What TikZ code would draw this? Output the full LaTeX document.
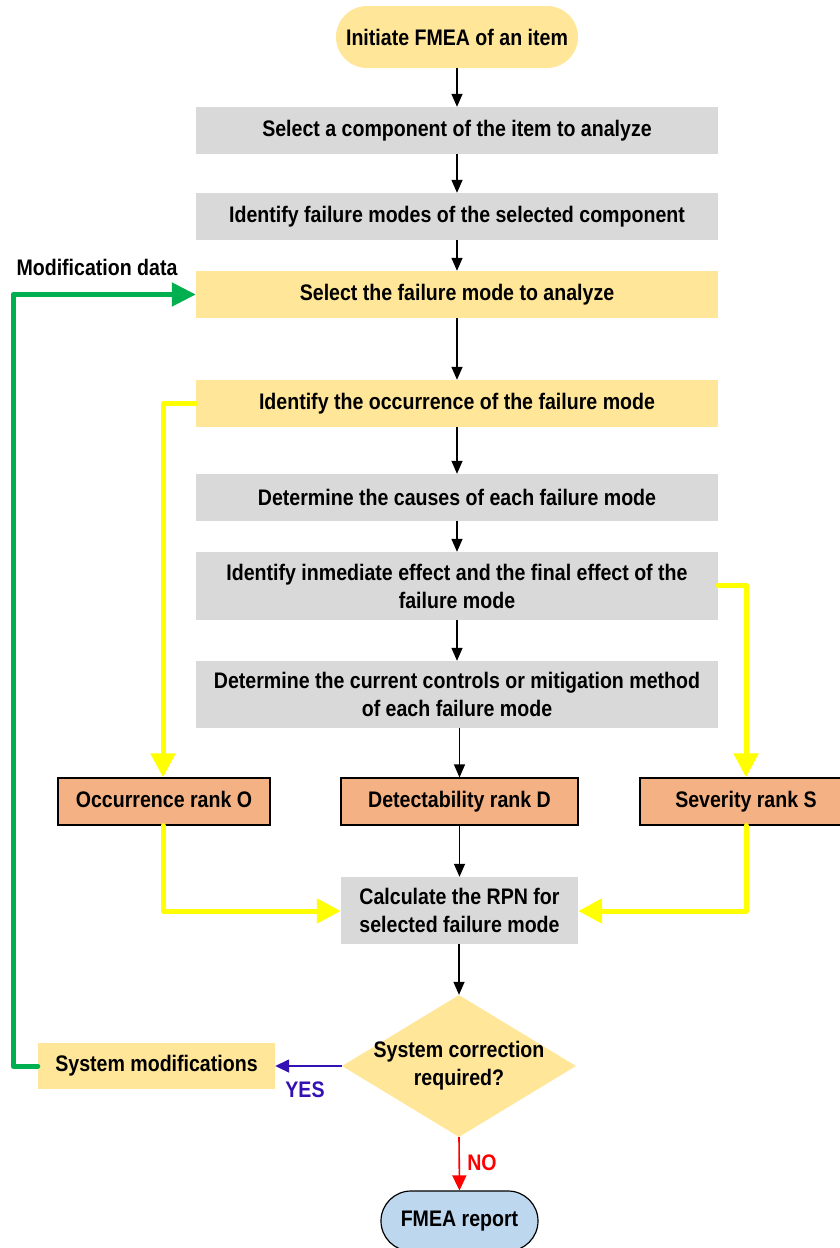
\documentclass[tikz,border=0pt]{standalone}
\usepackage{fontspec}
\setmainfont{Liberation Sans}[FakeStretch=0.87]
\usetikzlibrary{shapes.misc,shapes.geometric,arrows.meta}
\definecolor{fyel}{HTML}{FFE699}
\definecolor{fgray}{HTML}{D9D9D9}
\definecolor{forange}{HTML}{F4B183}
\definecolor{fblue}{HTML}{BDD7EE}
\definecolor{lyel}{HTML}{FFFF00}
\definecolor{lgreen}{HTML}{00B050}
\definecolor{lblue}{HTML}{3311B5}
\definecolor{lred}{HTML}{FF0000}
\tikzset{
  txt/.style={font=\fontsize{22.5}{28}\selectfont\bfseries, text=black, align=center},
  boxg/.style={txt, rectangle, fill=fgray, minimum width=522pt, minimum height=47pt, inner sep=0pt},
  boxy/.style={boxg, fill=fyel},
  rank/.style={txt, rectangle, fill=forange, draw=black, line width=1.2pt, minimum width=212pt, minimum height=47pt, inner sep=0pt, text height=16pt, text depth=5pt},
  term/.style={txt, rounded rectangle, inner sep=0pt},
  flow/.style={draw=black, line width=1.4pt, -{Triangle[length=13pt,width=11pt]}},
  yflow/.style={draw=lyel, line width=5pt, line cap=round, line join=round, -{Triangle[length=24pt,width=24pt]}},
  gflow/.style={draw=lgreen, line width=5pt, line cap=round, line join=round, -{Triangle[length=24pt,width=23pt]}},
}
\begin{document}
\begin{tikzpicture}[x=1pt,y=-1pt]
\useasboundingbox (0,0) rectangle (840,1248);
\begin{scope}
\clip (0,0) rectangle (840,1248);
\node[term, fill=fyel, minimum width=242pt, minimum height=62pt] (start) at (457,37) {Initiate FMEA of an item};
\node[boxg] (b1) at (457,130.5) {Select a component of the item to analyze};
\node[boxg] (b2) at (457,216.5) {Identify failure modes of the selected component};
\node[boxy] (b3) at (457,294.5) {Select the failure mode to analyze};
\node[boxy] (b4) at (457,403.5) {Identify the occurrence of the failure mode};
\node[boxg] (b5) at (457,497.5) {Determine the causes of each failure mode};
\node[boxg, minimum height=68pt] (b6) at (457,586) {Identify inmediate effect and the final effect of the\\failure mode};
\node[boxg, minimum height=67pt] (b7) at (457,694.5) {Determine the current controls or mitigation method\\of each failure mode};
\node[rank] (occ) at (164,801.5) {Occurrence rank O};
\node[rank, minimum width=237pt] (det) at (459.5,801.5) {Detectability rank D};
\node[rank] (sev) at (746,801.5) {Severity rank S};
\node[boxg, minimum width=237pt, minimum height=67pt] (calc) at (459.5,910.5) {Calculate the RPN for\\selected failure mode};
\node[diamond, fill=fyel, minimum width=234pt, minimum height=142pt, inner sep=0pt] (dia) at (459,1066) {};
\node[txt] (diat) at (459,1066) {System correction\\required?};
\node[boxy, minimum width=237pt, minimum height=46pt] (mod) at (156.5,1066) {System modifications};
\node[term, fill=fblue, draw=black, line width=1.2pt, minimum width=157pt, minimum height=60pt] (rep) at (459.5,1221) {FMEA report};
\node[txt] (mdata) at (97,267) {Modification data};
\node[txt, text=lblue] (yes) at (305,1090) {YES};
\node[txt, text=lred] (no) at (482,1163) {NO};

\coordinate (c1) at (163,403.5);
\coordinate (c2) at (163,911);
\coordinate (c3) at (746,585);
\coordinate (c4) at (746,911);
\coordinate (g1) at (13,1066);
\coordinate (g2) at (13,294.5);

\draw[flow] (start.south -| b1.north) -- (b1.north);
\draw[flow] (b1) -- (b2);
\draw[flow] (b2) -- (b3);
\draw[flow] (b3) -- (b4);
\draw[flow] (b4) -- (b5);
\draw[flow] (b5) -- (b6);
\draw[flow] (b6) -- (b7);
\draw[flow] (b7.south -| det.north) -- (det.north);
\draw[flow] (det) -- (calc);
\draw[flow] (calc.south -| dia.north) -- (dia.north);
\draw[draw=lblue, line width=1.6pt, -{Triangle[length=14pt,width=13pt]}] (dia.west) -- (mod.east);
\draw[draw=lred, line width=1.6pt, -{Triangle[length=15pt,width=14pt]}] (dia.south) -- (rep.north);

\draw[yflow] (b4.west) -- (c1) -- (occ.north -| c1);
\draw[yflow] (occ.south -| c1) -- (c2) -- (calc.west |- c2);
\draw[yflow] (b6.east |- c3) -- (c3) -- (sev.north -| c3);
\draw[yflow] (sev.south -| c3) -- (c4) -- (calc.east |- c4);
\draw[gflow] (mod.west) -- (g1) -- (g2) -- (b3.west);
\end{scope}
\end{tikzpicture}
\end{document}
